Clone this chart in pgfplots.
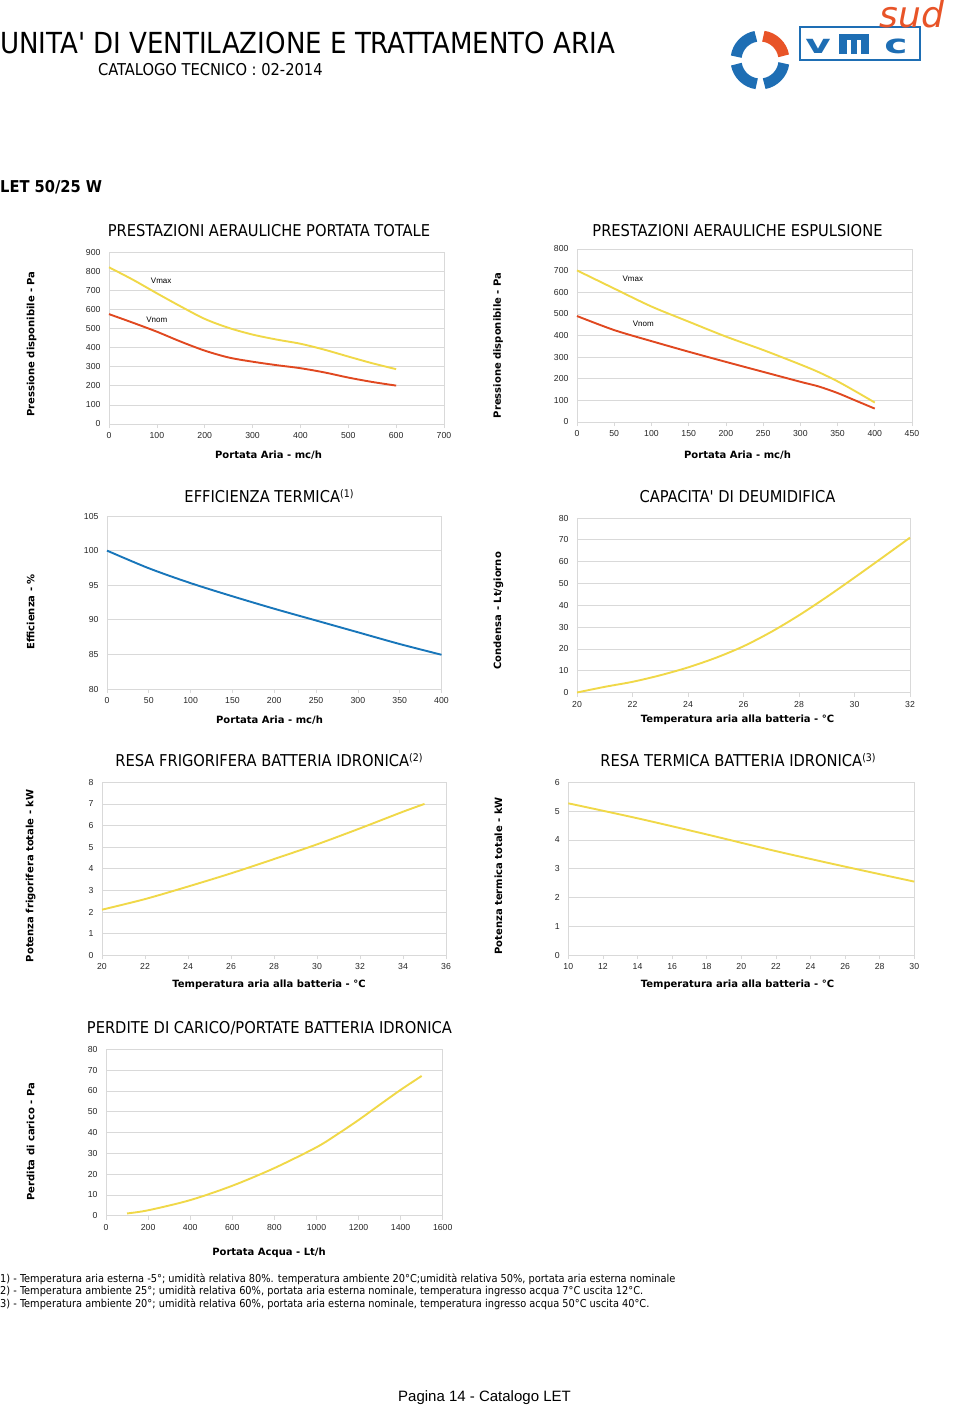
\documentclass[border=0pt]{standalone}
\usepackage{fontspec}
\usepackage{pgfplots}
\pgfplotsset{compat=1.18}
\setmainfont{Liberation Sans}
\newfontfamily\dvc{DejaVu Sans Condensed}[Ligatures=TeXOff]
\newfontfamily\dvs{DejaVu Sans}[Ligatures=TeXOff]
\definecolor{gridc}{RGB}{217,217,217}
\definecolor{cyel}{RGB}{240,216,72}
\definecolor{cred}{RGB}{224,72,32}
\definecolor{cblue}{RGB}{24,118,186}
\definecolor{lblue}{RGB}{30,110,180}
\definecolor{lorange}{RGB}{232,84,40}
\newcommand\ttlfont{\fontsize{16.3}{18}\dvc}
\newcommand\labfont{\fontsize{10}{12}\dvs\bfseries}
\newcommand\supnote[1]{\raisebox{0.55ex}{\fontsize{10.5}{10}\dvc #1}}
\pgfplotsset{
  vstyle/.style={
    scale only axis, anchor=south west,
    axis line style={draw=gridc, line width=0.7pt},
    ymajorgrids, grid style={draw=gridc, line width=0.7pt},
    tick label style={font=\fontsize{8.7}{10}\selectfont, text=black!85},
    /pgf/number format/assume math mode=true,
    /pgf/number format/set thousands separator={},
    xtick style={draw=gridc, line width=0.7pt},
    ytick style={draw=none},
    tick align=outside, major tick length=4pt,
    xtick pos=bottom, ytick pos=left,
    yticklabel style={xshift=-1pt},
    xticklabel style={yshift=-1pt},
    every axis plot/.append style={line width=1.9pt, smooth, mark=none, line join=round},
    clip=false,
  }
}
\begin{document}
\begin{tikzpicture}
\path[use as bounding box] (0,0) rectangle (960pt,-1407pt);
% header
\node[anchor=base west, inner sep=0, font=\fontsize{29}{30}\dvc] at (0pt,-54pt) {UNITA' DI VENTILAZIONE E TRATTAMENTO ARIA};
\node[anchor=base west, inner sep=0, font=\fontsize{16.3}{18}\dvc] at (98pt,-76pt) {CATALOGO TECNICO : 02-2014};
\node[anchor=base west, inner sep=0, font=\fontsize{16.3}{18}\dvc\bfseries] at (0pt,-193pt) {LET 50/25 W};
% logo
\begin{scope}[shift={(760pt,-60pt)}]
  \foreach \a/\c in {100/lblue,190/lblue,280/lblue,10/lorange}
    \draw[\c, line width=11pt] (\a:24pt) arc[start angle=\a, end angle=\a+72, radius=24pt];
\end{scope}
\draw[lblue, line width=2pt] (800pt,-27pt) rectangle (920pt,-60pt);
\fill[lblue] (839pt,-34pt) rectangle (869pt,-54pt);
\fill[white] (847pt,-40pt) rectangle (851pt,-54pt);
\fill[white] (857pt,-40pt) rectangle (861pt,-54pt);
\node[lblue, font=\fontsize{26}{26}\dvs\bfseries, xscale=1.5] at (818pt,-46pt) {v};
\node[lblue, font=\fontsize{26}{26}\dvs\bfseries, xscale=1.5] at (896pt,-46pt) {c};
\node[lorange, font=\fontsize{36}{36}\dvs\itshape] at (912pt,-14pt) {sud};

% ---------- chart 1
\node[anchor=base, font=\ttlfont] at (269pt,-236pt) {PRESTAZIONI AERAULICHE PORTATA TOTALE};
\node[rotate=90, font=\labfont] at (31.5pt,-344pt) {Pressione disponibile - Pa};
\node[font=\labfont] at (268.5pt,-455pt) {Portata Aria - mc/h};
\begin{axis}[vstyle, at={(109pt,-424pt)}, width=335pt, height=172pt,
  xmin=0, xmax=700, ymin=0, ymax=900,
  xtick={0,100,...,700}, ytick={0,100,...,900}]
\addplot[cyel] coordinates {(0,820)(50,755)(100,684)(150,615)(200,550)(250,503)(300,468)(350,442)(400,420)(450,389)(500,353)(550,318)(600,287)};
\addplot[cred] coordinates {(0,575)(50,530)(100,483)(150,431)(200,384)(250,348)(300,326)(350,308)(400,292)(450,270)(500,243)(550,220)(600,201)};
\node[font=\fontsize{8}{9}\selectfont] at (axis cs:109,748) {Vmax};
\node[font=\fontsize{8}{9}\selectfont] at (axis cs:100,544) {Vnom};
\end{axis}

% ---------- chart 2
\node[anchor=base, font=\ttlfont] at (737.5pt,-236pt) {PRESTAZIONI AERAULICHE ESPULSIONE};
\node[rotate=90, font=\labfont] at (498pt,-345.5pt) {Pressione disponibile - Pa};
\node[font=\labfont] at (737.5pt,-455pt) {Portata Aria - mc/h};
\begin{axis}[vstyle, at={(577pt,-422pt)}, width=335pt, height=173pt,
  xmin=0, xmax=450, ymin=0, ymax=800,
  xtick={0,50,...,450}, ytick={0,100,...,800}]
\addplot[cyel] coordinates {(0,701)(50,617)(100,534)(150,464)(200,395)(250,333)(300,266)(325,230)(350,188)(375,140)(400,90)};
\addplot[cred] coordinates {(0,490)(50,425)(100,374)(150,325)(200,278)(250,232)(300,186)(325,164)(350,134)(375,98)(400,62)};
\node[font=\fontsize{8}{9}\selectfont] at (axis cs:75,662) {Vmax};
\node[font=\fontsize{8}{9}\selectfont] at (axis cs:89,453) {Vnom};
\end{axis}

% ---------- chart 3
\node[anchor=base, font=\ttlfont] at (269pt,-502pt) {EFFICIENZA TERMICA\supnote{(1)}};
\node[rotate=90, font=\labfont] at (30.7pt,-611.7pt) {Efficienza - \%};
\node[font=\labfont] at (269.5pt,-720pt) {Portata Aria - mc/h};
\begin{axis}[vstyle, at={(107pt,-689pt)}, width=334.5pt, height=173pt,
  xmin=0, xmax=400, ymin=80, ymax=105,
  xtick={0,50,...,400}, ytick={80,85,...,105}]
\addplot[cblue] coordinates {(0,100)(50,97.45)(100,95.3)(150,93.4)(200,91.6)(250,89.9)(300,88.2)(350,86.5)(400,84.95)};
\end{axis}

% ---------- chart 4
\node[anchor=base, font=\ttlfont] at (737.5pt,-502pt) {CAPACITA' DI DEUMIDIFICA};
\node[rotate=90, font=\labfont] at (498.3pt,-610.8pt) {Condensa - Lt/giorno};
\node[font=\labfont] at (737.5pt,-720pt) {Temperatura aria alla batteria - °C};
\begin{axis}[vstyle, at={(577pt,-692.5pt)}, width=333pt, height=174.5pt,
  xmin=20, xmax=32, ymin=0, ymax=80,
  xtick={20,22,...,32}, ytick={0,10,...,80}]
\addplot[cyel] coordinates {(20,0)(21,2.6)(22,4.9)(23,7.9)(24,11.5)(25,15.9)(26,21.2)(27,27.8)(28,35.4)(29,43.8)(30,52.7)(31,61.8)(32,71)};
\end{axis}

% ---------- chart 5
\node[anchor=base, font=\ttlfont] at (269pt,-766pt) {RESA FRIGORIFERA BATTERIA IDRONICA\supnote{(2)}};
\node[rotate=90, font=\labfont] at (30.7pt,-875.8pt) {Potenza frigorifera totale - kW};
\node[font=\labfont] at (269pt,-985pt) {Temperatura aria alla batteria - °C};
\begin{axis}[vstyle, at={(102pt,-955.3pt)}, width=344pt, height=173pt,
  xmin=20, xmax=36, ymin=0, ymax=8,
  xtick={20,22,...,36}, ytick={0,1,...,8}]
\addplot[cyel] coordinates {(20,2.11)(22,2.6)(24,3.18)(26,3.79)(28,4.45)(30,5.13)(32,5.87)(34,6.64)(35,7.0)};
\end{axis}

% ---------- chart 6
\node[anchor=base, font=\ttlfont] at (738pt,-766pt) {RESA TERMICA BATTERIA IDRONICA\supnote{(3)}};
\node[rotate=90, font=\labfont] at (498.3pt,-875.8pt) {Potenza termica totale - kW};
\node[font=\labfont] at (737.5pt,-985pt) {Temperatura aria alla batteria - °C};
\begin{axis}[vstyle, at={(568.3pt,-955pt)}, width=346pt, height=172.7pt,
  xmin=10, xmax=30, ymin=0, ymax=6,
  xtick={10,12,...,30}, ytick={0,1,...,6}]
\addplot[cyel] coordinates {(10,5.27)(14,4.75)(18,4.19)(22,3.61)(26,3.07)(30,2.55)};
\end{axis}

% ---------- chart 7
\node[anchor=base, font=\ttlfont] at (269.5pt,-1033pt) {PERDITE DI CARICO/PORTATE BATTERIA IDRONICA};
\node[rotate=90, font=\labfont] at (30.7pt,-1141.7pt) {Perdita di carico - Pa};
\node[font=\labfont] at (269pt,-1252.7pt) {Portata Acqua - Lt/h};
\begin{axis}[vstyle, at={(106pt,-1215.7pt)}, width=336.7pt, height=166.4pt,
  xmin=0, xmax=1600, ymin=0, ymax=80,
  xtick={0,200,...,1600}, ytick={0,10,...,80}]
\addplot[cyel] coordinates {(100,1.1)(200,2.6)(400,7.5)(600,14.4)(800,22.9)(1000,32.9)(1100,39.2)(1200,46)(1300,53.3)(1400,60.5)(1500,67.2)};
\end{axis}

% footnotes
\begin{scope}[every node/.style={anchor=base west, inner sep=0, font=\fontsize{10.9}{11}\dvc}]
\node at (0pt,-1282pt) {1) - Temperatura aria esterna -5°; umidità relativa 80\%. temperatura ambiente 20°C;umidità relativa 50\%, portata aria esterna nominale};
\node at (0pt,-1294.5pt) {2) - Temperatura ambiente 25°; umidità relativa 60\%, portata aria esterna nominale, temperatura ingresso acqua 7°C uscita 12°C.};
\node at (0pt,-1307pt) {3) - Temperatura ambiente 20°; umidità relativa 60\%, portata aria esterna nominale, temperatura ingresso acqua 50°C uscita 40°C.};
\end{scope}
\node[anchor=base, inner sep=0, font=\fontsize{15}{18}\selectfont] at (484.5pt,-1401pt) {Pagina 14 - Catalogo LET};
\end{tikzpicture}
\end{document}
